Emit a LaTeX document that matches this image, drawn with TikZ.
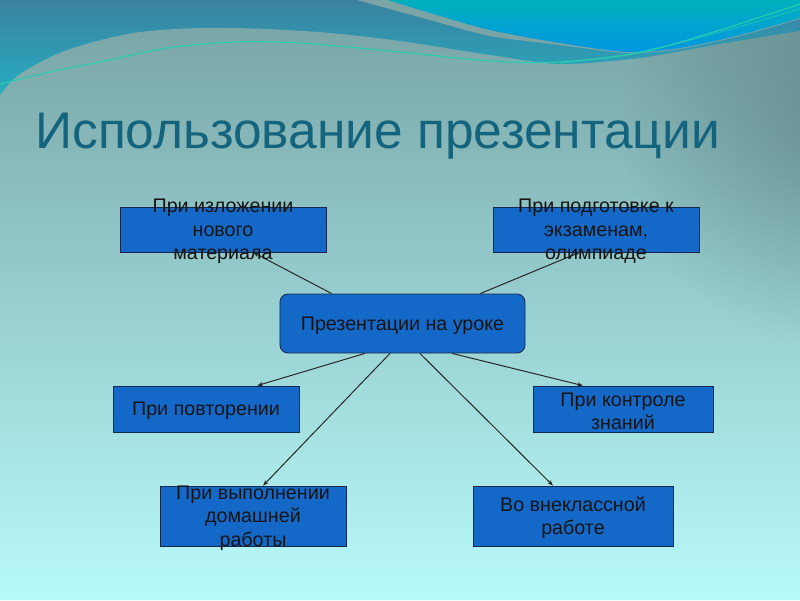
\documentclass[tikz,border=0pt]{standalone}
\usepackage{fontspec}
\setmainfont{Liberation Sans}
\usetikzlibrary{arrows.meta,calc,fadings}

\definecolor{waveTop}{RGB}{58,130,160}
\definecolor{waveLow}{RGB}{36,180,198}
\definecolor{stripGray}{RGB}{122,164,166}
\definecolor{blobTop}{RGB}{0,176,188}
\definecolor{blobLow}{RGB}{0,150,226}
\definecolor{waveLine}{RGB}{40,205,175}
\definecolor{bgTop}{RGB}{122,166,168}
\definecolor{bgMid}{RGB}{152,206,208}
\definecolor{bgLow}{RGB}{184,250,250}
\definecolor{bgDark}{RGB}{70,100,100}
\definecolor{headColor}{RGB}{20,100,125}
\definecolor{boxBlue}{RGB}{20,105,200}
\definecolor{boxLine}{RGB}{22,40,78}

\tikzfading[name=fade out, inner color=transparent!0, outer color=transparent!100]

\tikzset{
  headline/.style={font=\fontsize{36.6}{44}\selectfont, text=headColor, inner sep=0pt},
  box/.style={draw=boxLine, line width=0.6pt, fill=boxBlue, inner sep=0pt},
  boxtext/.style={font=\fontsize{14}{16.6}\selectfont, align=center, text=black!92, inner sep=0pt, yshift=-0.05cm},
  conn/.style={line width=0.7pt, draw=black!85, ->, >={Stealth[length=4pt,width=3pt]}},
  waveline/.style={line width=0.8pt, draw=waveLine}
}

\begin{document}
\begin{tikzpicture}[x=0.025cm, y=-0.025cm]
\useasboundingbox (0,0) rectangle (800,600);
\clip (0,0) rectangle (800,600);

% background
\shade[top color=waveTop, bottom color=waveLow] (0,0) rectangle (800,110);
\shade[top color=bgTop, middle color=bgMid, bottom color=bgLow] plot[smooth] coordinates {(0,95) (20,74) (67,50) (133,33) (200,28) (267,29) (330,33) (400,41) (490,55) (560,64) (640,58) (720,44) (800,31)} -- (800,600) -- (0,600) -- cycle;
\begin{scope}
  \clip plot[smooth] coordinates {(0,95) (20,74) (67,50) (133,33) (200,28) (267,29) (330,33) (400,41) (490,55) (560,64) (640,58) (720,44) (800,31)} -- (800,600) -- (0,600) -- cycle;
  \fill[bgDark, path fading=fade out, opacity=0.45] (840,120) ellipse [x radius=220, y radius=230];
\end{scope}
\fill[stripGray] plot[smooth] coordinates {(357,0) (430,20) (490,36) (560,45) (627,53) (680,49) (740,36) (800,19)} -- (800,0) -- cycle;
\shade[top color=blobTop, bottom color=blobLow] plot[smooth] coordinates {(388,0) (430,13) (490,30) (560,43) (627,52) (680,48) (740,35) (800,18)} -- (800,0) -- cycle;
\draw[waveline] plot[smooth] coordinates {(0,84) (50,72) (100,62) (167,48) (233,42) (300,43) (400,52) (490,61) (560,62) (643,52) (720,30) (800,4)};
\draw[waveline, opacity=0.6] plot[smooth] coordinates {(560,63) (620,56) (690,40) (745,25) (800,9)};

\node[headline, anchor=base west] (head) at (35,148) {Использование презентации};

% boxes
\node[box, minimum width=5.15cm, minimum height=1.125cm] (izl) at (223,229.5) {};
\node[box, minimum width=5.15cm, minimum height=1.125cm] (podg) at (596,229.5) {};
\node[box, rounded corners=0.2cm, minimum width=6.125cm, minimum height=1.475cm] (pres) at (402.5,323.5) {};
\node[box, minimum width=4.65cm, minimum height=1.15cm] (povt) at (206,409) {};
\node[box, minimum width=4.5cm, minimum height=1.15cm] (kontr) at (623,409) {};
\node[box, minimum width=4.65cm, minimum height=1.5cm] (dom) at (253,516) {};
\node[box, minimum width=5cm, minimum height=1.5cm] (vnekl) at (573,516) {};

% connectors
\draw[conn] ($(pres.north west)!0.212!(pres.north east)$) -- ($(izl.south west)!0.646!(izl.south east)$);
\draw[conn] ($(pres.north west)!0.816!(pres.north east)$) -- ($(podg.south west)!0.42!(podg.south east)$);
\draw[conn] ($(pres.south west)!0.347!(pres.south east)$) -- ($(povt.north west)!0.774!(povt.north east)$);
\draw[conn] ($(pres.south west)!0.449!(pres.south east)$) -- ($(dom.north west)!0.554!(dom.north east)$);
\draw[conn] ($(pres.south west)!0.571!(pres.south east)$) -- ($(vnekl.north west)!0.40!(vnekl.north east)$);
\draw[conn] ($(pres.south west)!0.702!(pres.south east)$) -- ($(kontr.north west)!0.278!(kontr.north east)$);

% texts
\node[boxtext] (izlT) at (izl) {При изложении\\нового\\материала};
\node[boxtext] (podgT) at (podg) {При подготовке к\\экзаменам,\\олимпиаде};
\node[boxtext] (presT) at (pres) {Презентации на уроке};
\node[boxtext] (povtT) at (povt) {При повторении};
\node[boxtext] (kontrT) at (kontr) {При контроле\\знаний};
\node[boxtext] (domT) at (dom) {При выполнении\\домашней\\работы};
\node[boxtext] (vneklT) at (vnekl) {Во внеклассной\\работе};
\end{tikzpicture}
\end{document}
